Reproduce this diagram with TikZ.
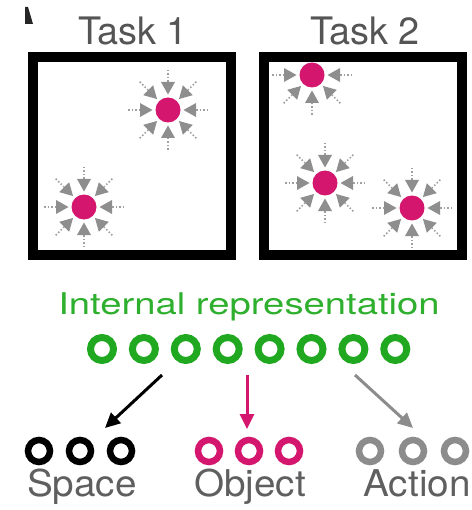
\documentclass[tikz,border=0pt]{standalone}
\usepackage{fontspec}
\setmainfont{TeX Gyre Heros}
\usepackage{graphicx}
\usetikzlibrary{calc,arrows.meta}
\definecolor{repgreen}{HTML}{21A821}
\definecolor{textgreen}{HTML}{2EAF2E}
\definecolor{objmag}{HTML}{D4166F}
\definecolor{arrgray}{HTML}{8E8E8E}
\definecolor{tailgray}{HTML}{A0A0A0}
\definecolor{actgray}{HTML}{8C8C8C}
\definecolor{labgray}{HTML}{5F5F5F}
\definecolor{taskgray}{HTML}{555555}
\newcommand\mkburst[2]{%
  \foreach \a in {#2}{%
    \draw[tailstyle] ($(#1)+(\a:40)$) -- ($(#1)+(\a:28)$);
    \fill[arrgray] ($(#1)+(\a:15.5)$) -- ($(#1)+(\a:28)+(\a+90:7)$) -- ($(#1)+(\a:28)+(\a-90:7)$) -- cycle;
  }}
\begin{document}
\begin{tikzpicture}[x=1bp,y=-1bp,
  arena/.style={draw=black,line width=10bp},
  target/.style={circle,fill=objmag,inner sep=0pt,minimum size=25bp},
  tailstyle/.style={draw=tailgray,line width=1.5bp,dash pattern=on 1.5bp off 2bp},
  tasklabel/.style={anchor=base,inner sep=0pt,text=taskgray,font=\fontsize{38}{40}\selectfont},
  ring/.style={circle,draw,inner sep=0pt,minimum size=23bp,line width=7bp},
  smallring/.style={circle,draw,inner sep=0pt,minimum size=22bp,line width=6.5bp},
  grouplabel/.style={anchor=base,inner sep=0pt,text=labgray,font=\fontsize{37}{40}\selectfont},
  maparrow/.style={line width=3bp,-{Triangle[length=15bp,width=14bp]}}
]
\useasboundingbox (0,0) rectangle (472,510);
% small clipped mark at top left
\fill[black!85] (25,7) -- (28,7) -- (33,24) -- (25,24) -- cycle;
% task labels
\node[tasklabel] (t1) at (133,44.5) {Task 1};
\node[tasklabel] (t2) at (365,44.5) {Task 2};
% arenas
\draw[arena] (33,57) rectangle (231,255);
\draw[arena] (264,57) rectangle (462,255);
% targets task 1
\coordinate (c1) at (168,110);
\coordinate (c2) at (84,207);
\mkburst{c1}{0,45,...,315}
\mkburst{c2}{0,45,...,315}
\node[target] (d1) at (c1) {};
\node[target] (d2) at (c2) {};
% targets task 2
\coordinate (c3) at (312,75);
\coordinate (c4) at (325,183);
\coordinate (c5) at (412,208);
\mkburst{c3}{0,45,90,135,180}
\mkburst{c4}{0,45,...,315}
\mkburst{c5}{0,45,...,315}
\node[target] (d3) at (c3) {};
\node[target] (d4) at (c4) {};
\node[target] (d5) at (c5) {};
% internal representation
\node[anchor=base,inner sep=0pt,text=textgreen] (irlabel) at (249,314)
  {\scalebox{1.28}[1]{\fontsize{30}{32}\selectfont Internal representation}};
\foreach \i in {1,...,8}{
  \node[ring,draw=repgreen] (g\i) at ({102+(\i-1)*41.9},349) {};
}
% groups
\foreach \i/\x in {1/39,2/80,3/121}{
  \node[smallring,draw=black] (s\i) at (\x,451) {};
}
\foreach \i/\x in {1/209,2/249,3/289}{
  \node[smallring,draw=objmag] (o\i) at (\x,451) {};
}
\foreach \i/\x in {1/370,2/413,3/455}{
  \node[smallring,draw=actgray] (a\i) at (\x,451) {};
}
\node[grouplabel] (lspace) at (82,496) {\scalebox{1.05}[1]{Space}};
\node[grouplabel] (lobject) at (250,496) {\scalebox{1.05}[1]{Object}};
\node[grouplabel] (laction) at (417,496) {\scalebox{1.05}[1]{Action}};
% mapping arrows
\coordinate (bs) at (162,375);
\coordinate (be) at (105,428);
\coordinate (ms) at (247,375);
\coordinate (me) at (247,429);
\coordinate (as) at (355,375);
\coordinate (ae) at (413,428);
\draw[maparrow,black] (bs) -- (be);
\draw[maparrow,objmag] (ms) -- (me);
\draw[maparrow,actgray] (as) -- (ae);
\end{tikzpicture}
\end{document}
